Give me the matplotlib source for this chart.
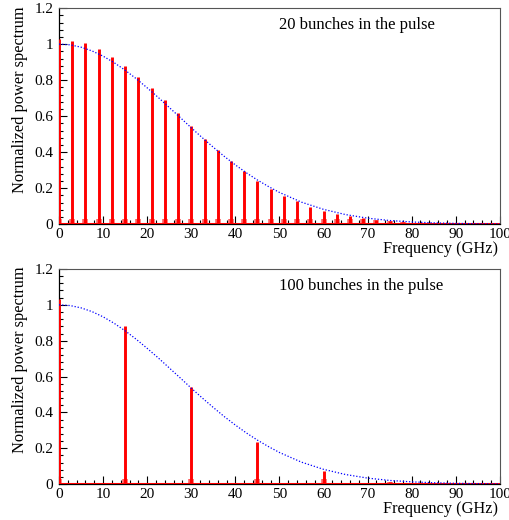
import numpy as np
import matplotlib.pyplot as plt
from matplotlib.ticker import MultipleLocator

plt.rcParams["font.family"] = ["Liberation Serif", "DejaVu Serif"]
plt.rcParams["font.size"] = 11

# gaussian bunch-form envelope, read every 2.5 GHz
env_freq = [0, 2.5, 5, 7.5, 10, 12.5, 15, 17.5, 20, 22.5, 25, 27.5, 30, 32.5,
            35, 37.5, 40, 42.5, 45, 47.5, 50, 55, 60, 65, 70, 75, 80, 85,
            90, 95, 100]
env_val = [1.0, 0.996, 0.983, 0.962, 0.933, 0.897, 0.855, 0.808, 0.757, 0.704,
           0.648, 0.592, 0.535, 0.48, 0.427, 0.376, 0.329, 0.285, 0.245, 0.209,
           0.176, 0.122, 0.082, 0.053, 0.033, 0.02, 0.012, 0.007, 0.004,
           0.002, 0.001]

# 20 bunches: lines every 3 GHz
peaks20_freq = [0, 3, 6, 9, 12, 15, 18, 21, 24, 27, 30, 33, 36, 39,
                42, 45, 48, 51, 54, 57, 60, 63, 66, 69, 72, 75, 78]
peaks20_val = [1.03, 1.02, 1.005, 0.975, 0.93, 0.88, 0.82, 0.755, 0.69, 0.615,
               0.545, 0.475, 0.41, 0.35, 0.295, 0.24, 0.195, 0.156, 0.128,
               0.095, 0.073, 0.056, 0.045, 0.033, 0.022, 0.015, 0.01]

# 100 bunches: lines every 15 GHz
peaks100_freq = [0, 15, 30, 45, 60, 75]
peaks100_val = [1.03, 0.88, 0.54, 0.236, 0.073, 0.01]

panels = [
    (peaks20_freq, peaks20_val, "20 bunches in the pulse"),
    (peaks100_freq, peaks100_val, "100 bunches in the pulse"),
]

fig = plt.figure(figsize=(5.09, 5.20), dpi=100)
positions = [[0.116, 0.569, 0.866, 0.4154], [0.116, 0.0692, 0.866, 0.4135]]

for pos, (freq, vals, label) in zip(positions, panels):
    ax = fig.add_axes(pos)

    # baseline of the spectrum
    ax.plot([0, 100], [0, 0], color="red", lw=2.2, solid_capstyle="butt", zorder=3)
    # small side lobes at the foot of each line
    ax.vlines(freq, 0, [min(0.03, v) for v in vals], color="#ff6060", lw=4, zorder=2)
    # the spectral lines
    ax.vlines(freq, 0, vals, color="red", lw=2.1, zorder=3)

    ax.plot(env_freq, env_val, color="blue", ls=(0, (1, 1.5)), lw=0.9, zorder=4)

    ax.set_xlim(0, 100)
    ax.set_ylim(0, 1.2)
    ax.xaxis.set_minor_locator(MultipleLocator(2))
    ax.yaxis.set_minor_locator(MultipleLocator(0.04))
    ax.tick_params(which="both", direction="in", top=False, right=False)
    ax.tick_params(which="major", length=6, width=0.8)
    ax.tick_params(which="minor", length=3, width=0.8)
    ax.tick_params(axis="x", pad=3)
    ax.tick_params(axis="y", pad=4)
    ax.set_xticks(range(0, 101, 10))
    ax.set_xticklabels([str(v) for v in range(0, 101, 10)])
    ax.set_yticks([0, 0.2, 0.4, 0.6, 0.8, 1.0, 1.2])
    ax.set_yticklabels(["0", "0.2", "0.4", "0.6", "0.8", "1", "1.2"])
    for lab in ax.get_xticklabels():
        lab.set_clip_on(False)

    for side in ["top", "right"]:
        ax.spines[side].set_color("#555555")
        ax.spines[side].set_linewidth(0.8)
    for side in ["left", "bottom"]:
        ax.spines[side].set_linewidth(0.9)

    ax.set_xlabel("Frequency (GHz)", ha="right", x=0.995, labelpad=0, fontsize=11.8)
    ax.set_ylabel("Normalized power spectrum", ha="right", y=1.01, labelpad=5,
                  fontsize=11.8)
    ax.text(0.5, 0.92, label, transform=ax.transAxes, ha="left", va="center",
            fontsize=12)

fig.savefig("out.png", dpi=100)
